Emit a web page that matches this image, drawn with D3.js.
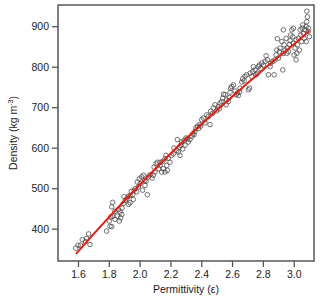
<!DOCTYPE html>
<html>
<head>
<meta charset="utf-8">
<script src="https://cdn.jsdelivr.net/npm/d3@7"></script>
<style>
  html, body { margin: 0; padding: 0; background: #fff; }
  svg { display: block; font-family: "Liberation Sans", Arial, Helvetica, sans-serif; }
</style>
</head>
<body>
<svg id="chart" width="320" height="302"></svg>
<script>
// Scatter points: permittivity (x) and density (y)
const permittivity = [
  1.585,1.600,1.617,1.628,1.648,1.656,1.669,1.678,
  1.786,1.808,1.819,1.803,1.812,1.825,1.840,1.855,1.868,1.877,1.873,1.884,1.862,1.840,1.819,1.825,
  1.886,1.894,1.907,1.899,1.916,1.927,1.938,1.946,1.955,1.959,1.938,1.929,1.964,1.972,1.981,1.992,
  1.985,1.998,2.013,2.024,2.033,2.003,2.020,2.050,2.035,2.042,2.057,2.068,2.081,2.089,2.100,2.094,
  2.107,2.115,2.124,2.133,2.143,2.154,2.165,2.180,2.176,2.150,2.133,2.165,2.171,2.187,2.197,2.208,
  2.219,2.223,2.241,2.252,2.258,2.267,2.262,2.245,2.280,2.295,2.273,2.288,2.301,2.310,2.316,2.327,
  2.338,2.345,2.353,2.358,2.366,2.375,2.383,2.390,2.396,
  2.403,2.414,2.425,2.436,2.446,2.457,2.461,2.474,2.479,2.490,2.500,2.511,2.518,2.522,2.533,2.539,
  2.544,2.555,2.561,2.565,2.576,2.583,2.587,2.591,2.598,2.609,2.620,2.626,2.635,2.641,2.648,2.652,
  2.663,2.669,2.678,2.684,2.695,2.706,2.713,2.717,2.728,2.734,2.739,2.749,2.756,2.765,2.771,2.777,
  2.786,2.793,2.803,2.814,2.821,2.829,2.836,2.847,2.851,2.864,2.873,2.879,2.886,2.890,2.894,2.901,
  2.907,2.912,2.923,2.929,2.933,2.938,2.944,2.951,2.955,2.959,2.966,2.972,2.977,2.981,2.988,2.994,
  2.998,3.003,3.009,3.016,3.020,3.024,3.031,3.037,3.042,3.046,3.052,3.055,3.059,3.063,3.068,3.074,
  3.081,3.085,3.089,3.085,3.094,3.096,3.102,3.081,3.016,2.998,2.933
];
const density = [
  352,359,359,373,368,376,387,361,
  394,406,405,419,429,431,423,431,419,427,441,435,447,443,454,465,
  451,462,470,479,474,480,482,492,484,472,464,460,495,499,491,503,
  515,523,528,532,519,511,495,484,507,517,528,533,525,532,540,552,
  560,564,548,556,540,548,540,544,556,566,564,573,581,574,564,581,
  585,599,593,589,601,606,581,620,597,606,614,618,624,622,614,620,
  628,634,632,640,649,653,647,657,653,
  669,673,661,681,677,657,690,685,698,706,691,702,696,710,714,722,
  732,731,706,718,714,724,737,747,751,755,740,731,735,729,737,747,
  762,770,765,776,780,743,747,784,776,788,800,792,780,784,800,804,
  796,809,804,813,827,817,780,800,809,813,780,817,829,841,869,821,
  837,846,862,792,833,854,841,870,833,846,837,855,864,878,891,874,
  858,829,846,817,833,854,870,841,891,878,862,895,903,882,870,891,
  899,911,923,937,887,895,874,862,866,895,891
];
// Fitted curve (red)
const fitX = [1.587, 1.8, 2.0, 2.2, 2.4, 2.6, 2.8, 3.0, 3.102];
const fitY = [338, 428, 508, 585, 657, 726, 792, 855, 888];

const xTicks = [1.6, 1.8, 2.0, 2.2, 2.4, 2.6, 2.8, 3.0];
const yTicks = [400, 500, 600, 700, 800, 900];
const xLabel = "Permittivity (ε)";

const svg = d3.select("#chart");
const L = 58, T = 5, R = 314, B = 261;
const x = d3.scaleLinear().domain([1.4702, 3.1318]).range([L, R]);
const y = d3.scaleLinear().domain([320.2, 952.3]).range([B, T]);

const axisColor = "#555";

// Axes
const gx = svg.append("g").attr("transform", `translate(0,${B})`)
  .call(d3.axisBottom(x).tickValues(xTicks).tickFormat(d3.format(".1f")).tickSize(6).tickSizeOuter(0).tickPadding(4));
const gy = svg.append("g").attr("transform", `translate(${L},0)`)
  .call(d3.axisLeft(y).tickValues(yTicks).tickFormat(d3.format("d")).tickSize(6).tickSizeOuter(0).tickPadding(3));
[gx, gy].forEach(g => {
  g.select(".domain").remove();
  g.selectAll(".tick line").attr("stroke", axisColor).attr("stroke-width", 1.3);
  g.selectAll(".tick text").attr("fill", "#222").style("font-size", "10.5px")
    .style("font-family", '"Liberation Sans", Arial, Helvetica, sans-serif');
});

// Points
const pts = permittivity.map((v, i) => [v, density[i]]);
svg.append("g").selectAll("circle").data(pts).join("circle")
  .attr("cx", d => x(d[0])).attr("cy", d => y(d[1])).attr("r", 2.3)
  .attr("fill", "none").attr("stroke", "#444").attr("stroke-width", 0.75);

// Fit line
const fit = fitX.map((v, i) => [v, fitY[i]]);
svg.append("path").datum(fit)
  .attr("d", d3.line().x(d => x(d[0])).y(d => y(d[1])).curve(d3.curveMonotoneX))
  .attr("fill", "none").attr("stroke", "#ee1a0c").attr("stroke-width", 2);

// Frame
svg.append("rect").attr("x", L).attr("y", T).attr("width", R - L).attr("height", B - T)
  .attr("fill", "none").attr("stroke", axisColor).attr("stroke-width", 1.5);

// Axis labels
svg.append("text").attr("x", (L + R) / 2).attr("y", 293).attr("text-anchor", "middle")
  .attr("fill", "#222").style("font-size", "10.5px").text(xLabel);
const yl = svg.append("text").attr("transform", `translate(17,${(T + B) / 2}) rotate(-90)`)
  .attr("text-anchor", "middle").attr("fill", "#222").style("font-size", "10.5px");
yl.append("tspan").text("Density (kg m");
yl.append("tspan").attr("dy", -4).style("font-size", "7px").text("-3");
yl.append("tspan").attr("dy", 4).text(")");
</script>
</body>
</html>
